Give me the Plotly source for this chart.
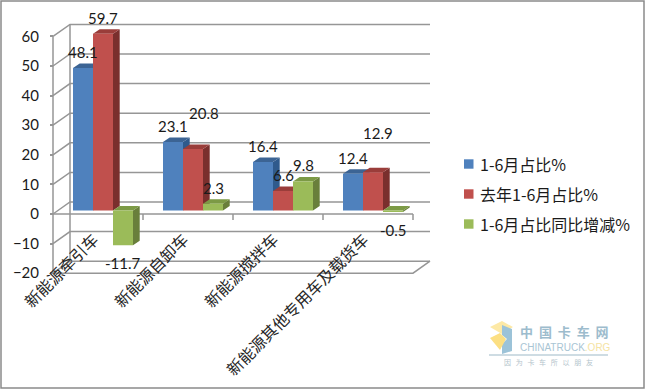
import plotly.graph_objects as go

categories = ["新能源牵引车", "新能源自卸车", "新能源搅拌车", "新能源其他专用车及载货车"]
names = ["1-6月占比%", "去年1-6月占比%", "1-6月占比同比增减%"]
share = [48.1, 23.1, 16.4, 12.4]
share_last = [59.7, 20.8, 6.6, 12.9]
share_change = [-11.7, 2.3, 9.8, -0.5]
y_ticks = [-20, -10, 0, 10, 20, 30, 40, 50, 60]

W, H = 645, 390
SLOT = 90.0      # px per category
UNIT = 2.96      # px per value unit
X0, Y0 = 98.0, 214.0   # px of first category centre and of value 0
ux = lambda px: px / SLOT
uy = lambda px: px / UNIT
WALL_DX, WALL_DY = ux(17), uy(12)
SHIFT_DX, SHIFT_DY = ux(5), uy(3.5)
BAR_DX, BAR_DY = ux(6.7), uy(4.5)
BAR_W = ux(20)
LEFT, RIGHT = -0.5, 3.5
GRID = "#969696"
INK = "#1a1a1a"

series = [share, share_last, share_change]
faces = [("#4F81BD", "#3C6494", "#2F5A8C"),
         ("#C0504D", "#9A3D3A", "#7A2F2D"),
         ("#9BBB59", "#7C9A45", "#697F3B")]
# per-label pixel nudges (dx, dy above the bar end)
nudges = [[(0, 16), (0, 16), (0, 16), (0, 16)],
          [(0, 16), (11, 36), (0, 16), (5, 39)],
          [(0, -18), (0, 16), (0, 16), (0, -18)]]
legend_rows = [164, 194, 224]

fig = go.Figure()

# walls and floor
gx, gy = [], []
for t in y_ticks:
    gx += [LEFT, LEFT + WALL_DX, RIGHT + WALL_DX, None]
    gy += [t, t + WALL_DY, t + WALL_DY, None]
lo, hi = min(y_ticks), max(y_ticks)
gx += [LEFT + WALL_DX, LEFT + WALL_DX, None, LEFT, LEFT, None,
       LEFT, RIGHT, RIGHT + WALL_DX, None, LEFT, RIGHT, None]
gy += [lo + WALL_DY, hi + WALL_DY, None, lo, hi, None,
       lo, lo, lo + WALL_DY, None, 0, 0, None]
for k in range(1, 5):
    gx += [LEFT + k, LEFT + k, None]
    gy += [0, -uy(6), None]
fig.add_trace(go.Scatter(x=gx, y=gy, mode="lines", line=dict(color=GRID, width=1.5),
                         showlegend=False, hoverinfo="skip"))

def poly(kind, idx, values):
    xs, ys = [], []
    for i, v in enumerate(values):
        x0 = i + SHIFT_DX + (idx - 1.5) * BAR_W
        x1 = x0 + BAR_W
        b = SHIFT_DY
        y0, y1 = b + min(v, 0), b + max(v, 0)
        if kind == "front":
            xs += [x0, x1, x1, x0, x0, None]; ys += [y0, y0, y1, y1, y0, None]
        elif kind == "top":
            xs += [x0, x1, x1 + BAR_DX, x0 + BAR_DX, x0, None]
            ys += [y1, y1, y1 + BAR_DY, y1 + BAR_DY, y1, None]
        else:
            xs += [x1, x1 + BAR_DX, x1 + BAR_DX, x1, x1, None]
            ys += [y0, y0 + BAR_DY, y1 + BAR_DY, y1, y0, None]
    return xs, ys

for idx, (vals, cols, name) in enumerate(zip(series, faces, names)):
    for kind, col in zip(("side", "top", "front"), (cols[2], cols[1], cols[0])):
        xs, ys = poly(kind, idx, vals)
        fig.add_trace(go.Scatter(x=xs, y=ys, mode="lines", fill="toself", fillcolor=col, name=name,
                                 line=dict(width=0, color=col), showlegend=False,
                                 hoverinfo="skip"))

# data labels
for idx, vals in enumerate(series):
    for i, v in enumerate(vals):
        dx, dy = nudges[idx][i]
        fig.add_annotation(x=i + SHIFT_DX + (idx - 1) * BAR_W, y=SHIFT_DY + v, text=f"{v:g}",
                           showarrow=False, xshift=dx, yshift=dy, xanchor="center", yanchor="middle",
                           font=dict(family="Lato", size=15, color=INK))

# rotated category labels
for i, c in enumerate(categories):
    fig.add_annotation(x=i, y=0, text=c, showarrow=False, textangle=-45, xanchor="right", yanchor="top",
                       xshift=8, yshift=-11, font=dict(family="Noto Sans CJK SC", size=16, color="#262626"))

def px(x): return x / W
def py(y): return 1 - y / H
def path(pts):
    return "M" + "L".join(f"{px(a):.4f},{py(b):.4f}" for a, b in pts) + "Z"

shapes = [
    dict(type="rect", xref="paper", yref="paper", x0=px(1), x1=px(644), y0=py(388), y1=py(1),
         line=dict(color="#8a8a8a", width=1.5)),
    dict(type="path", xref="paper", yref="paper", path=path([(490, 327), (502, 321), (513, 327), (502, 334)]),
         fillcolor="#fde9a6", line=dict(width=0)),
    dict(type="path", xref="paper", yref="paper", path=path([(502, 325), (512, 329), (512, 351), (502, 354), (502, 344), (507, 339), (502, 335)]),
         fillcolor="#9cc3d8", line=dict(width=0)),
    dict(type="path", xref="paper", yref="paper", path=path([(490, 338), (500, 333), (506, 339), (500, 350)]),
         fillcolor="#fcdf82", line=dict(width=0)),
    dict(type="line", xref="paper", yref="paper", x0=px(489), x1=px(608), y0=py(355), y1=py(355),
         line=dict(color="#9db9c7", width=1)),
]

# legend keys and texts
for name, cols, row in zip(names, faces, legend_rows):
    shapes.append(dict(type="rect", xref="paper", yref="paper", x0=px(464), x1=px(473.5),
                       y0=py(row + 4.7), y1=py(row - 4.7), fillcolor=cols[0], line=dict(width=0)))
    fig.add_annotation(xref="paper", yref="paper", x=px(478), y=py(row), text=name, showarrow=False,
                       xanchor="left", yanchor="middle",
                       font=dict(family="Noto Sans CJK SC, Lato", size=16, color=INK))

# watermark
fig.add_annotation(xref="paper", yref="paper", x=px(564), y=py(331), text="<b>中  国  卡  车  网</b>", showarrow=False,
                   xanchor="center", yanchor="middle",
                   font=dict(family="Noto Sans CJK SC", size=13, color="#9dbccd"))
fig.add_annotation(xref="paper", yref="paper", x=px(565), y=py(347),
                   text='CHINATRUCK<span style="color:#f5e3a3">.ORG</span>', showarrow=False,
                   xanchor="center", yanchor="middle",
                   font=dict(family="Liberation Sans", size=10, color="#a9c5d4"))
fig.add_annotation(xref="paper", yref="paper", x=px(548), y=py(362), text="因   为   卡   车   所   以   朋   友", showarrow=False,
                   xanchor="center", yanchor="middle",
                   font=dict(family="Noto Sans CJK SC", size=7, color="#b4c4cc"))

fig.update_layout(
    width=W, height=H, margin=dict(l=0, r=0, t=0, b=0), autosize=False,
    paper_bgcolor="white", plot_bgcolor="white", shapes=shapes,
    showlegend=False,
    xaxis=dict(range=[(0 - X0) / SLOT, (W - X0) / SLOT], visible=False, fixedrange=True),
    yaxis=dict(range=[-(H - Y0) / UNIT, Y0 / UNIT], anchor="free", position=53 / W,
               tickvals=y_ticks, ticks="outside", ticklen=3, tickcolor=GRID, tickwidth=1.5,
               ticklabelstandoff=8, showgrid=False, zeroline=False, showline=False,
               tickfont=dict(family="Lato", size=15, color=INK), fixedrange=True),
)
fig.write_html("out.html", config=dict(displayModeBar=False),
               post_script="document.body.style.margin='0';document.body.style.overflow='hidden';")
